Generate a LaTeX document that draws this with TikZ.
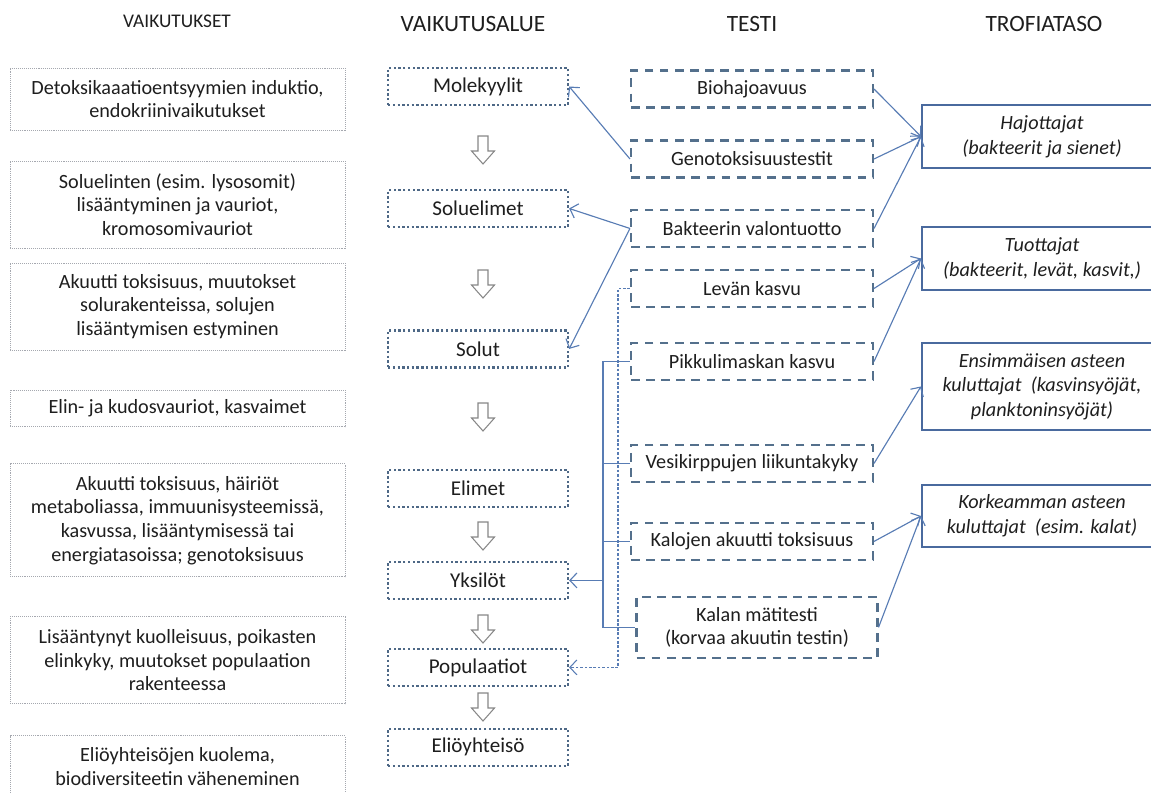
\documentclass[tikz,border=0pt]{standalone}
\usepackage{fontspec}
\setmainfont{Carlito}
\usepackage{tikz}
\usetikzlibrary{positioning, arrows.meta}
\definecolor{effgray}{RGB}{165,168,175}
\definecolor{areablue}{RGB}{78,104,134}
\definecolor{testblue}{RGB}{84,112,140}
\definecolor{trophblue}{RGB}{74,106,158}
\definecolor{linkblue}{RGB}{88,124,180}
\definecolor{arrowgray}{RGB}{135,135,135}
\definecolor{ink}{RGB}{30,30,30}
\tikzset{node distance=2cm, auto,
  >={Straight Barb[length=4pt,width=8.5pt]},
  effbox/.style={draw=effgray, line width=0.5pt, dash pattern=on 0.5pt off 0.6pt, minimum width=6.7cm, inner sep=1pt, align=center, text=ink, font=\fontsize{11.5}{13.4}\selectfont},
  areabox/.style={draw=areablue, line width=1.3pt, dash pattern=on 1.3pt off 1.4pt, minimum width=3.6cm, minimum height=0.74cm, inner sep=1pt, text=ink, font=\fontsize{12}{14}\selectfont},
  testbox/.style={draw=testblue, line width=1.2pt, dash pattern=on 5pt off 3.6pt, minimum width=4.84cm, minimum height=0.74cm, inner sep=1pt, align=center, text=ink, font=\fontsize{11.5}{13}\selectfont},
  trophbox/.style={draw=trophblue, line width=1.2pt, minimum width=4.8cm, inner sep=1pt, align=center, text=ink, font=\fontsize{11.5}{14}\selectfont\itshape},
  conn/.style={draw=linkblue, line width=0.65pt},
  dotconn/.style={draw=linkblue, line width=0.6pt, dash pattern=on 1.5pt off 1pt},
  colhead/.style={text=ink, font=\fontsize{13.3}{15}\selectfont},
  hollowdown/.pic={\draw[arrowgray, fill=white, line width=0.6pt] (-5,-14) -- (5,-14) -- (5,1) -- (11.5,1) -- (0,14) -- (-11.5,1) -- (-5,1) -- cycle;}
}
\begin{document}
\begin{tikzpicture}[x=0.02cm, y=-0.02cm]
           \useasboundingbox (0,0) rectangle (1151,793);
           \clip (0,0) rectangle (1151,793);

           \node (Heff) [colhead, font=\fontsize{11}{13}\selectfont] at (177,21.5) {VAIKUTUKSET};
           \node (Harea) [colhead] at (473,24.5) {VAIKUTUSALUE};
           \node (Htest) [colhead] at (752,24.5) {TESTI};
           \node (Htroph) [colhead] at (1044,24.5) {TROFIATASO};

           \node (Detox) [effbox, minimum height=1.24cm] at (177.5,99) {Detoksikaaatioentsyymien induktio,\\ endokriinivaikutukset};
           \node (Organ) [effbox, minimum height=1.74cm, below of=Detox, node distance=2.11cm] {Soluelinten (esim. lysosomit)\\ lisääntyminen ja vauriot,\\ kromosomivauriot};
           \node (Cell) [effbox, minimum height=1.74cm, below of=Organ, node distance=2.04cm] {Akuutti toksisuus, muutokset\\ solurakenteissa, solujen\\ lisääntymisen estyminen};
           \node (Tissue) [effbox, minimum height=0.74cm, below of=Cell, node distance=2.04cm] {Elin- ja kudosvauriot, kasvaimet};
           \node (Indiv) [effbox, minimum height=2.26cm, below of=Tissue, node distance=2.24cm] {Akuutti toksisuus, häiriöt\\ metaboliassa, immuunisysteemissä,\\ kasvussa, lisääntymisessä tai\\ energiatasoissa; genotoksisuus};
           \node (Popul) [effbox, minimum height=1.74cm, below of=Indiv, node distance=2.8cm] {Lisääntynyt kuolleisuus, poikasten\\ elinkyky, muutokset populaation\\ rakenteessa};
           \node (Comm) [effbox, minimum height=1.22cm, below of=Popul, node distance=2.12cm] {Eliöyhteisöjen kuolema,\\ biodiversiteetin väheneminen};

           \node (Mol) [areabox] at (478,86.5) {Molekyylit};
           \node (Sol) [areabox, below of=Mol, node distance=2.44cm] {Soluelimet};
           \node (Solut) [areabox, below of=Sol, node distance=2.81cm] {Solut};
           \node (Elim) [areabox, below of=Solut, node distance=2.79cm] {Elimet};
           \node (Yks) [areabox, below of=Elim, node distance=1.84cm] {Yksilöt};
           \node (Pop) [areabox, below of=Yks, node distance=1.74cm] {Populaatiot};
           \node (Eli) [areabox, below of=Pop, node distance=1.6cm] {Eliöyhteisö};

           \pic at (483,150) {hollowdown};
           \pic at (483,284) {hollowdown};
           \pic at (483,417) {hollowdown};
           \pic at (483,536) {hollowdown};
           \pic at (483,629) {hollowdown};
           \pic at (483,707) {hollowdown};

           \node (Bio) [testbox] at (752,89) {Biohajoavuus};
           \node (Geno) [testbox, below of=Bio, node distance=1.4cm] {Genotoksisuustestit};
           \node (Bakt) [testbox, below of=Geno, node distance=1.39cm] {Bakteerin valontuotto};
           \node (Levan) [testbox, below of=Bakt, node distance=1.2cm] {Levän kasvu};
           \node (Pikku) [testbox, below of=Levan, node distance=1.46cm] {Pikkulimaskan kasvu};
           \node (Vesi) [testbox, below of=Pikku, node distance=2.04cm] {Vesikirppujen liikuntakyky};
           \node (Kaloj) [testbox, below of=Vesi, node distance=1.56cm] {Kalojen akuutti toksisuus};
           \node (Kalan) [testbox, below of=Kaloj, node distance=1.72cm, xshift=0.1cm, minimum width=4.82cm, minimum height=1.22cm] {Kalan mätitesti\\ (korvaa akuutin testin)};

           \node (Haj) [trophbox, minimum height=1.26cm] at (1042,136.5) {Hajottajat\\ (bakteerit ja sienet)};
           \node (Tuot) [trophbox, minimum height=1.26cm, below of=Haj, node distance=2.44cm] {Tuottajat\\ (bakteerit, levät, kasvit,)};
           \node (Ens) [trophbox, minimum height=1.74cm, below of=Tuot, node distance=2.56cm] {Ensimmäisen asteen\\ kuluttajat\ \ (kasvinsyöjät,\\ planktoninsyöjät)};
           \node (Kork) [trophbox, minimum height=1.24cm, below of=Ens, node distance=2.59cm] {Korkeamman asteen\\ kuluttajat\ \ (esim. kalat)};

           \coordinate (Bus) at (Yks.east -| 603,0);
           \coordinate (Drop) at (Pop.east -| 618,0);

           \draw[conn, <-] (Mol.east) to (Geno.west);
           \draw[conn, <-] (Sol.east) to (Bakt.west);
           \draw[conn, <-] (Solut.east) to (Bakt.west);
           \draw[conn] (Pikku.west) -| (Bus) |- (Kalan.west);
           \draw[conn] (Vesi.west) to (Vesi.west -| Bus);
           \draw[conn] (Kaloj.west) to (Kaloj.west -| Bus);
           \draw[conn, ->] (Bus) to (Yks.east);
           \draw[dotconn, ->] (Levan.west) -| (Drop) to (Pop.east);

           \draw[conn, ->] (Bio.east) to (Haj.west);
           \draw[conn, ->] (Geno.east) to (Haj.west);
           \draw[conn, ->] (Bakt.east) to (Haj.west);
           \draw[conn, ->] (Levan.east) to (Tuot.west);
           \draw[conn, ->] (Pikku.east) to (Tuot.west);
           \draw[conn, ->] (Vesi.east) to (Ens.west);
           \draw[conn, ->] (Kaloj.east) to (Kork.west);
           \draw[conn, ->] (Kalan.east) to (Kork.west);
\end{tikzpicture}
\end{document}
